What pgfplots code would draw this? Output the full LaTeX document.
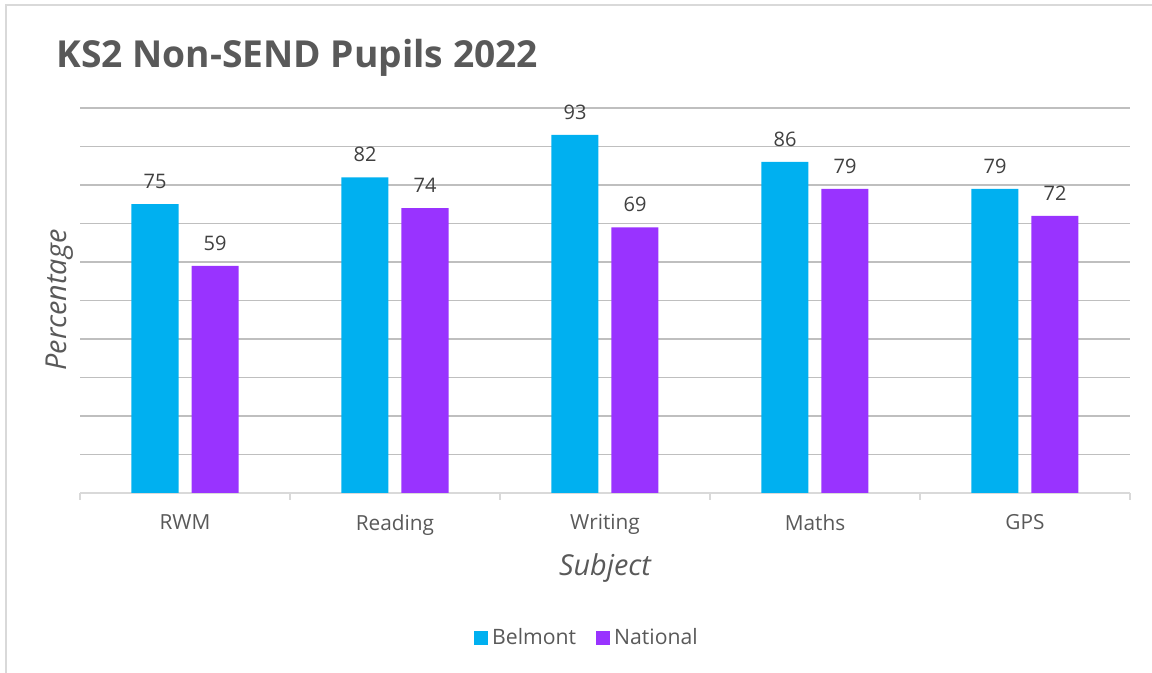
\documentclass[border=0pt]{standalone}
\usepackage{pgfplots}
\pgfplotsset{compat=1.18}
\usepackage{fontspec}
\setmainfont{Open Sans}
\definecolor{belmont}{HTML}{00B0F0}
\definecolor{national}{HTML}{9933FF}
\definecolor{txt}{HTML}{595959}
\definecolor{lbl}{HTML}{404040}
\definecolor{grid}{HTML}{D9D9D9}
\begin{document}
\begin{tikzpicture}
\path[use as bounding box] (0,0) rectangle (576pt,336.5pt);
\draw[grid, line width=0.8pt] (3pt,0) -- (3pt,334pt) -- (576pt,334pt);
\node[anchor=base west, text=txt, font=\fontsize{18.6}{22}\selectfont\bfseries, inner sep=0pt] at (28pt,302.5pt) {KS2 Non-SEND Pupils 2022};
\begin{axis}[
  at={(40pt,90pt)}, anchor=south west,
  scale only axis, width=525pt, height=192.5pt,
  ybar=6.5pt, bar width=23.5pt,
  xmin=-0.5, xmax=4.5, ymin=0, ymax=100,
  xtick={-0.5,0.5,1.5,2.5,3.5,4.5},
  xticklabels={RWM,Reading,Writing,Maths,GPS,{}},
  ytick={0,10,...,100}, yticklabels={},
  xmajorgrids=false,
  ymajorgrids, grid style={grid, line width=0.75pt},
  axis x line*=bottom, axis y line*=left,
  y axis line style={draw=none},
  x axis line style={grid, line width=0.75pt},
  major tick length=3.5pt,
  tick align=outside,
  ytick style={draw=none},
  xtick style={draw=grid, line width=0.75pt},
  xticklabel style={text=txt, font=\fontsize{10.4}{12}\selectfont, anchor=north, inner sep=0pt, yshift=-7pt, xshift=52.5pt},
  /pgf/number format/assume math mode=true,
  nodes near coords,
  nodes near coords style={text=lbl, font=\fontsize{10}{12}\selectfont, anchor=south, inner sep=0pt, yshift=7.5pt},
  xlabel={Subject}, ylabel={Percentage},
  xlabel style={at={(axis description cs:0.5,-0.195)}, anchor=center, text=txt, font=\fontsize{14.4}{16}\selectfont\itshape},
  ylabel style={at={(axis description cs:-0.019,0.501)}, anchor=center, rotate=0, text=txt, font=\fontsize{14.4}{16}\selectfont\itshape},
  legend style={at={(axis description cs:0.4838,-0.3766)}, anchor=center, draw=none, legend columns=2, font=\fontsize{10.6}{12}\selectfont, text=txt, /tikz/every even column/.append style={column sep=8pt}},
  legend image code/.code={\fill[#1] (0pt,-3.5pt) rectangle (7pt,3.5pt);},
]
\addplot[fill=belmont, draw=none] coordinates {(0,75) (1,82) (2,93) (3,86) (4,79)};
\addplot[fill=national, draw=none] coordinates {(0,59) (1,74) (2,69) (3,79) (4,72)};
\legend{Belmont,National}
\end{axis}
\end{tikzpicture}
\end{document}
